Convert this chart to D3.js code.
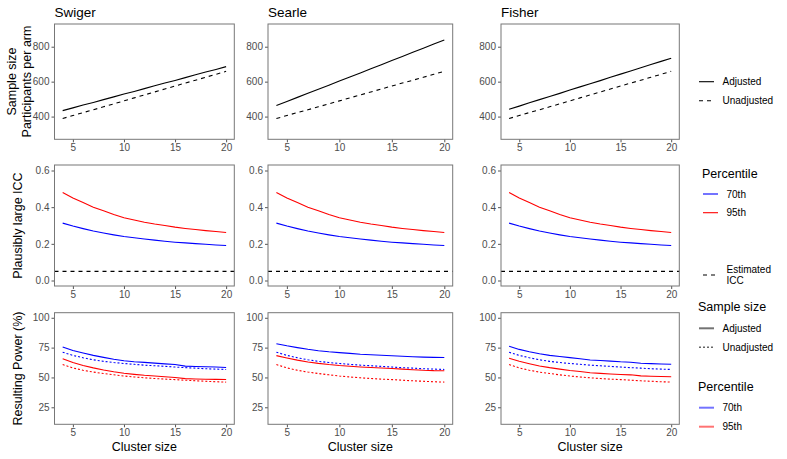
<!DOCTYPE html>
<html><head><meta charset="utf-8">
<script src="https://cdn.jsdelivr.net/npm/d3@7"></script>
<style>
body{margin:0;background:#fff;}
text{font-family:"Liberation Sans",Arial,sans-serif;}
</style></head>
<body><svg id="c" width="787" height="459"></svg>
<script>
// ---- data ----
const methods = ["Swiger", "Searle", "Fisher"];
const clusterSize = [4,5,6,7,8,9,10,11,12,13,14,15,16,17,18,19,20];
const sampleUnadjusted = [389,406,423,439,456,473,490,507,524,541,558,575,592,608,625,642,659];
const sampleAdjSwiger = [434,450,466,481,497,513,529,544,560,576,592,607,623,639,655,670,686];
const sampleAdjSearle = [463,486,510,533,557,580,604,627,650,674,697,721,744,768,791,815,838];
const sampleAdjFisher = [442,460,479,497,515,533,552,570,588,606,625,643,661,679,698,716,734];
const icc70 = [0.313,0.297,0.283,0.270,0.259,0.249,0.240,0.233,0.226,0.220,0.214,0.209,0.205,0.201,0.198,0.194,0.191];
const icc95 = [0.480,0.450,0.425,0.400,0.380,0.360,0.342,0.330,0.318,0.308,0.300,0.291,0.284,0.278,0.272,0.267,0.262];
const iccEstimated = 0.05;
const powUnadj70 = [71.1,68.5,66.5,64.8,63.5,62.5,61.7,61.0,60.3,59.8,59.3,58.7,58.2,57.8,57.3,57.0,56.7];
const powUnadj95 = [60.8,58.0,56.0,54.5,53.3,52.2,51.2,50.4,49.7,49.1,48.6,48.2,47.7,47.2,46.8,46.4,46.1];
const powSwiger70 = [75.6,72.5,70.5,68.5,66.8,65.2,64.0,63.2,62.6,62.0,61.4,60.8,59.5,59.2,59.0,58.7,58.4];
const powSwiger95 = [65.6,62.5,60.0,58.0,56.3,54.8,53.5,52.6,51.8,51.2,50.6,50.0,49.0,48.7,48.5,48.4,48.3];
const powSearle70 = [78.3,76.5,75.0,73.6,72.4,71.5,70.8,70.2,69.5,69.0,68.6,68.2,67.7,67.3,67.0,66.8,66.7];
const powSearle95 = [68.3,66.3,64.5,63.0,61.8,60.8,60.0,59.4,58.8,58.3,57.9,57.5,57.0,56.5,56.0,55.7,55.6];
const powFisher70 = [76.1,73.5,71.5,69.8,68.5,67.5,66.6,65.7,64.6,64.2,63.7,63.1,62.8,61.9,61.6,61.3,61.1];
const powFisher95 = [66.1,63.5,61.5,59.6,58.2,57.0,55.8,55.0,53.9,53.4,52.9,52.5,52.2,51.3,51.0,50.8,50.6];
const xTicks = [5,10,15,20];
const sampleTicks = [400,600,800];
const iccTicks = [0.0,0.2,0.4,0.6];
const powerTicks = [25,50,75,100];

const sampleAdj = [sampleAdjSwiger, sampleAdjSearle, sampleAdjFisher];
const pow70 = [powSwiger70, powSearle70, powFisher70];
const pow95 = [powSwiger95, powSearle95, powFisher95];

// ---- layout ----
const cols = [[54.5,234.3],[268,452.7],[501,679.3]];
const rows = [[24,139.3],[165,286],[312.7,424.3]];
const BLUE = "#0000FF", RED = "#FF0000";
const svg = d3.select("#c");

function expand(a,b){const d=(b-a)*0.05;return [a-d,b+d];}
const yDomains = [expand(300,900), expand(0,0.6), expand(15,100)];
const yTickSets = [sampleTicks, iccTicks, powerTicks];
const yFmt = [d3.format("d"), d3.format(".1f"), d3.format("d")];

const line = (x,y,vals) => d3.line().x((d,i)=>x(clusterSize[i])).y(d=>y(d))(vals);

for (let r=0;r<3;r++){
  for (let c=0;c<3;c++){
    const [x0,x1]=cols[c],[y0,y1]=rows[r];
    const x = d3.scaleLinear().domain(expand(4,20)).range([x0,x1]);
    const y = d3.scaleLinear().domain(yDomains[r]).range([y1,y0]);
    const g = svg.append("g");
    const ax = g.append("g").attr("transform",`translate(0,${y1})`)
      .call(d3.axisBottom(x).tickValues(xTicks).tickSize(3).tickPadding(2).tickFormat(d3.format("d")));
    const ay = g.append("g").attr("transform",`translate(${x0},0)`)
      .call(d3.axisLeft(y).tickValues(yTickSets[r]).tickSize(3).tickPadding(2).tickFormat(yFmt[r]));
    [ax,ay].forEach(a=>{
      a.select(".domain").remove();
      a.selectAll(".tick line").attr("stroke","#555");
      a.selectAll(".tick text").attr("fill","#4d4d4d").style("font-size","10px").style("font-family","Liberation Sans, Arial, sans-serif");
    });
    const clip = g.append("g");
    if (r===0){
      clip.append("path").attr("d",line(x,y,sampleAdj[c])).attr("fill","none").attr("stroke","#000").attr("stroke-width",1.1);
      clip.append("path").attr("d",line(x,y,sampleUnadjusted)).attr("fill","none").attr("stroke","#000").attr("stroke-width",1.1).attr("stroke-dasharray","4,4");
    } else if (r===1){
      clip.append("line").attr("x1",x0).attr("x2",x1).attr("y1",y(iccEstimated)).attr("y2",y(iccEstimated))
        .attr("stroke","#000").attr("stroke-width",1.1).attr("stroke-dasharray","4,4");
      clip.append("path").attr("d",line(x,y,icc70)).attr("fill","none").attr("stroke",BLUE).attr("stroke-width",1.1);
      clip.append("path").attr("d",line(x,y,icc95)).attr("fill","none").attr("stroke",RED).attr("stroke-width",1.1);
    } else {
      const sets=[[pow70[c],BLUE,null],[powUnadj70,BLUE,"2,2"],[pow95[c],RED,null],[powUnadj95,RED,"2,2"]];
      sets.forEach(([v,col,da])=>{
        const p=clip.append("path").attr("d",line(x,y,v)).attr("fill","none").attr("stroke",col).attr("stroke-width",1.1);
        if(da) p.attr("stroke-dasharray",da);
      });
    }
    g.append("rect").attr("x",x0).attr("y",y0).attr("width",x1-x0).attr("height",y1-y0)
      .attr("fill","none").attr("stroke","#777").attr("stroke-width",1);
    if (r===0){
      svg.append("text").attr("x",x0).attr("y",16.5).text(methods[c]).style("font-size","13.5px").attr("fill","#000");
    }
    if (r===2){
      svg.append("text").attr("x",(x0+x1)/2).attr("y",451).attr("text-anchor","middle").text("Cluster size").style("font-size","12.5px");
    }
  }
}
function vtext(x,y,t){svg.append("text").attr("transform",`translate(${x},${y}) rotate(-90)`).attr("text-anchor","middle").text(t).style("font-size","12.5px");}
vtext(16,81.5,"Sample size");
vtext(31,81.5,"Participants per arm");
vtext(22,225.5,"Plausibly large ICC");
vtext(22,368.5,"Resulting Power (%)");

function legItem(x,y,label,col,da,w,op){
  const l=svg.append("line").attr("x1",x).attr("x2",x+15).attr("y1",y).attr("y2",y).attr("stroke",col).attr("stroke-width",w||1.1);
  if(da) l.attr("stroke-dasharray",da);
  if(op) l.attr("stroke-opacity",op);
  svg.append("text").attr("x",x+23.5).attr("y",y+3.5).text(label).style("font-size","10px").attr("fill","#000");
}
function legTitle(x,y,t){svg.append("text").attr("x",x).attr("y",y+4.4).text(t).style("font-size","12.5px");}
legItem(699,81.7,"Adjusted","#000",null);
legItem(699,100.7,"Unadjusted","#000","4,4");
legTitle(702,173.3,"Percentile");
legItem(703,194,"70th",BLUE,null);
legItem(703,212.7,"95th",RED,null);
svg.append("line").attr("x1",703).attr("x2",718).attr("y1",275).attr("y2",275).attr("stroke","#000").attr("stroke-width",1.1).attr("stroke-dasharray","4,4");
svg.append("text").attr("x",726.5).attr("y",272.8).text("Estimated").style("font-size","10px");
svg.append("text").attr("x",726.5).attr("y",283.8).text("ICC").style("font-size","10px");
legTitle(698,306.7,"Sample size");
legItem(699,328.3,"Adjusted","#000",null,2,0.55);
legItem(699,347.3,"Unadjusted","#000","2,2",1.6,0.6);
legTitle(698,386.7,"Percentile");
legItem(699,407.7,"70th",BLUE,null,2,0.55);
legItem(699,426.7,"95th",RED,null,2,0.55);
</script></body></html>
